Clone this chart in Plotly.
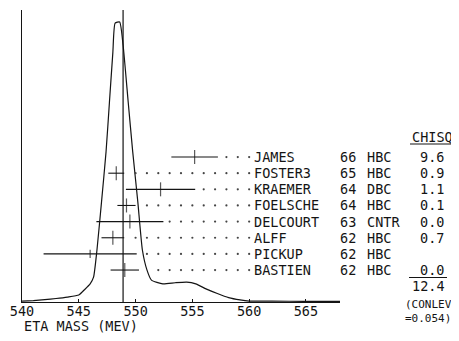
import plotly.graph_objects as go

# ---- data ----
mass_grid = [540.0, 541.0, 542.0, 543.0, 544.0, 545.0, 545.5, 546.0, 546.3, 546.6,
             547.0, 547.4, 547.7, 548.0, 548.2, 548.6, 548.9, 549.35, 549.75, 550.2,
             550.6, 551.0, 551.4, 552.4, 553.5, 554.5, 555.3, 556.2, 557.2, 558.2,
             559.2, 560.0, 562.0, 565.0, 568.0]
ideogram = [0.03, 0.05, 0.08, 0.12, 0.17, 0.24, 0.42, 0.62, 0.85, 1.78,
            3.42, 5.14, 6.85, 8.55, 9.55, 9.59, 8.80, 6.85, 5.14, 3.42,
            1.78, 1.10, 0.75, 0.62, 0.66, 0.68, 0.62, 0.45, 0.29, 0.15,
            0.07, 0.03, 0.03, 0.02, 0.02]

names = ["JAMES", "FOSTER3", "KRAEMER", "FOELSCHE", "DELCOURT", "ALFF", "PICKUP", "BASTIEN"]
years = ["66", "65", "64", "64", "63", "62", "62", "62"]
types = ["HBC", "HBC", "DBC", "HBC", "CNTR", "HBC", "HBC", "HBC"]
masses = [555.2, 548.3, 552.2, 549.2, 549.5, 548.0, 546.0, 549.05]
errors = [2.05, 0.7, 3.05, 0.8, 2.95, 1.0, 4.1, 1.25]
chisq = ["9.6", "0.9", "1.1", "0.1", "0.0", "0.7", "", "0.0"]
leader_start = [558, 550, 556, 551, 553, 550, 551, 552]
leader_end = 560
total_chisq = "12.4"
conlev_lines = ["(CONLEV", "=0.054)"]
mean_mass = 548.9
xticks = [540, 545, 550, 555, 560, 565]
x_title = "ETA MASS (MEV)"
chisq_title = "CHISQ"

FONT = "DejaVu Sans Mono"
INK = "#141414"
W, H = 459, 341
OFF = 8                      # page body margin
L, T = 22 - OFF, 10 - OFF
PW, PH = 318, 292
R = W - L - PW
B = H - T - PH


def px(p):
    """screen x pixel -> paper x"""
    return (p - OFF - L) / PW


def py(p):
    """screen y pixel -> paper y"""
    return (T + PH - (p - OFF)) / PH


n = len(names)
rows = [n - 1 - i for i in range(n)]

fig = go.Figure()

# ideogram curve
fig.add_trace(go.Scatter(
    x=mass_grid, y=ideogram, mode="lines",
    line=dict(color=INK, width=1.2, shape="spline", smoothing=0.5),
    hoverinfo="skip", showlegend=False))

# leader dots
dx, dy = [], []
for r, s in zip(rows, leader_start):
    for m in range(s, leader_end + 1):
        dx.append(m)
        dy.append(r)
fig.add_trace(go.Scatter(
    x=dx, y=dy, yaxis="y2", mode="markers",
    marker=dict(size=2.2, color="#444"), hoverinfo="skip", showlegend=False))

# measurements with error bars
fig.add_trace(go.Scatter(
    x=masses, y=rows, yaxis="y2", mode="markers",
    marker=dict(symbol="line-ns", size=[10 if c else 6 for c in chisq],
                line=dict(width=1.2, color=INK), color=INK),
    error_x=dict(type="data", array=errors, width=0, thickness=1.1, color=INK),
    hoverinfo="skip", showlegend=False))

# mean line with cap
shapes = [
    dict(type="line", xref="x", yref="y", x0=mean_mass, x1=mean_mass, y0=0, y1=10.03,
         line=dict(color=INK, width=1.2)),
    dict(type="line", xref="x", yref="y", x0=mean_mass - 0.6, x1=mean_mass + 0.6,
         y0=10.03, y1=10.03, line=dict(color=INK, width=1.2)),
    dict(type="line", xref="paper", yref="paper", x0=px(410), x1=px(470),
         y0=py(144), y1=py(144), line=dict(color=INK, width=1.1)),
    dict(type="line", xref="paper", yref="paper", x0=px(409), x1=px(447),
         y0=py(277.5), y1=py(277.5), line=dict(color=INK, width=1.1)),
]

ann = []
tf = dict(family=FONT, size=13.5, color=INK)
sf = dict(family=FONT, size=11, color=INK)
for r, nm, yr, tp, cs in zip(rows, names, years, types, chisq):
    ann.append(dict(x=px(252), y=r, xref="paper", yref="y2", text=nm, showarrow=False,
                    xanchor="left", yanchor="middle", font=tf))
    ann.append(dict(x=px(338), y=r, xref="paper", yref="y2", text=yr, showarrow=False,
                    xanchor="left", yanchor="middle", font=tf))
    ann.append(dict(x=px(365), y=r, xref="paper", yref="y2", text=tp, showarrow=False,
                    xanchor="left", yanchor="middle", font=tf))
    if cs:
        ann.append(dict(x=px(418), y=r, xref="paper", yref="y2", text=cs, showarrow=False,
                        xanchor="left", yanchor="middle", font=tf))

ann.append(dict(x=px(410), y=py(136.5), xref="paper", yref="paper", text=chisq_title,
                showarrow=False, xanchor="left", yanchor="middle", font=tf))
ann.append(dict(x=px(410), y=py(285.5), xref="paper", yref="paper", text=total_chisq,
                showarrow=False, xanchor="left", yanchor="middle", font=tf))
ann.append(dict(x=px(403), y=py(311), xref="paper", yref="paper",
                text="<br>".join(conlev_lines), align="left",
                showarrow=False, xanchor="left", yanchor="middle", font=sf))
ann.append(dict(x=px(22), y=py(326), xref="paper", yref="paper", text=x_title,
                showarrow=False, xanchor="left", yanchor="middle", font=tf))

fig.update_layout(
    width=W, height=H,
    margin=dict(l=L, r=R, t=T, b=B, pad=0, autoexpand=False),
    paper_bgcolor="white", plot_bgcolor="white",
    showlegend=False,
    xaxis=dict(range=[540, 568], tickvals=xticks, ticktext=[str(v) for v in xticks],
               ticks="inside", ticklen=3, tickcolor=INK, showline=True, linecolor=INK,
               linewidth=1.2, showgrid=False, zeroline=False, tickfont=tf,
               ticklabelstandoff=-3),
    yaxis=dict(range=[0, 10], showline=True, linecolor=INK, linewidth=1.2,
               showticklabels=False, ticks="", showgrid=False, zeroline=False),
    yaxis2=dict(range=[-1.98, 16.11], overlaying="y", visible=False),
    shapes=shapes, annotations=ann,
)

fig.write_html("out.html")
